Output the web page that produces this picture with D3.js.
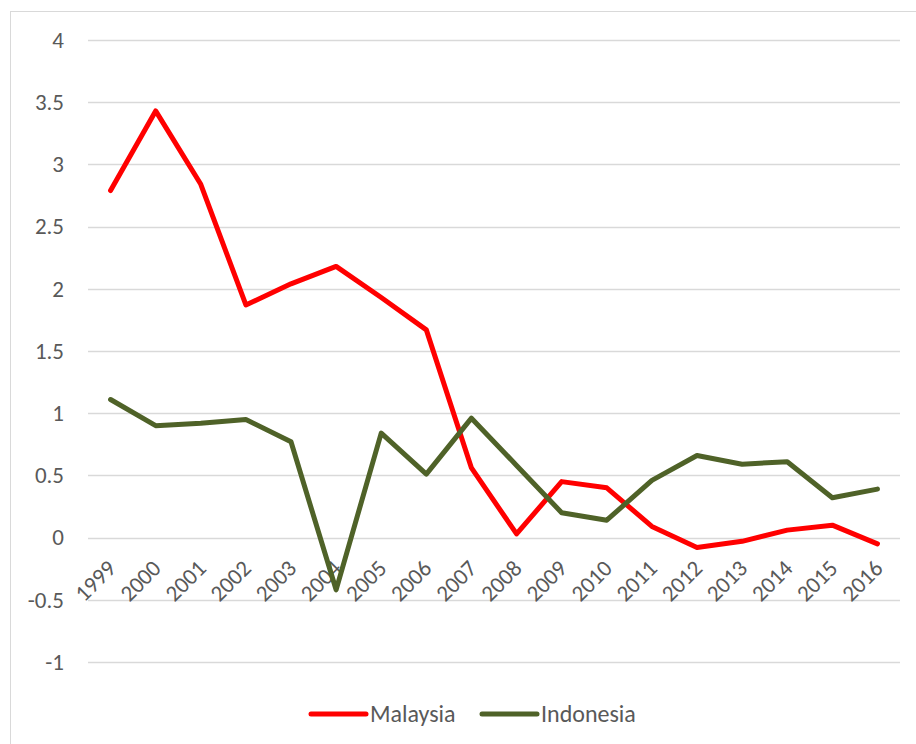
<!DOCTYPE html>
<html>
<head>
<meta charset="utf-8">
<script src="https://cdn.jsdelivr.net/npm/d3@7"></script>
<style>
  html, body { margin: 0; padding: 0; background: #fff; }
  svg { display: block; }
</style>
</head>
<body>
<svg id="chart" width="916" height="744"></svg>
<script>
const years = ["1999","2000","2001","2002","2003","2004","2005","2006","2007","2008","2009","2010","2011","2012","2013","2014","2015","2016"];
const malaysia = [2.79, 3.43, 2.84, 1.87, 2.04, 2.18, 1.93, 1.67, 0.56, 0.03, 0.45, 0.40, 0.09, -0.08, -0.03, 0.06, 0.10, -0.05];
const indonesia = [1.11, 0.90, 0.92, 0.95, 0.77, -0.42, 0.84, 0.51, 0.96, 0.58, 0.20, 0.14, 0.46, 0.66, 0.59, 0.61, 0.32, 0.39];
const yTicks = [-1, -0.5, 0, 0.5, 1, 1.5, 2, 2.5, 3, 3.5, 4];
const seriesNames = ["Malaysia", "Indonesia"];
const seriesColors = ["#FF0000", "#4F6228"];

const svg = d3.select("#chart");
const font = "Calibri, Carlito, Lato, 'Open Sans', sans-serif";
const textColor = "#595959";

// outer frame
svg.append("rect").attr("x", 10.5).attr("y", 11.5).attr("width", 920).attr("height", 760)
  .attr("fill", "none").attr("stroke", "#D9D9D9").attr("stroke-width", 1);

const x = d3.scalePoint().domain(years).range([88, 900]).padding(0.5);
const y = d3.scaleLinear().domain([-1, 4]).range([662, 40]);

// gridlines
svg.append("g").selectAll("line").data(yTicks).join("line")
  .attr("x1", 88).attr("x2", 900)
  .attr("y1", d => Math.round(y(d)) + 0.5).attr("y2", d => Math.round(y(d)) + 0.5)
  .attr("stroke", "#D9D9D9").attr("stroke-width", 1.3);

// y axis labels
const yAxis = d3.axisLeft(y).tickValues(yTicks).tickSize(0).tickPadding(0).tickFormat(d => String(d));
const yg = svg.append("g").attr("transform", "translate(64,0)").call(yAxis);
yg.select(".domain").remove();
yg.selectAll("text").attr("font-family", font).attr("font-size", 23).attr("fill", textColor);

// x axis labels (rotated)
const xAxis = d3.axisBottom(x).tickSize(0).tickPadding(0);
const xg = svg.append("g").call(xAxis);
xg.select(".domain").remove();
xg.selectAll(".tick").attr("transform", d => `translate(${x(d) + 1},564)`);
xg.selectAll("text")
  .attr("font-family", font).attr("font-size", 23).attr("fill", textColor)
  .attr("text-anchor", "end").attr("dy", "0.35em").attr("y", 0).attr("x", 0)
  .attr("transform", "rotate(-45)");

// lines
const line = d3.line().x((d, i) => x(years[i])).y(d => y(d)).curve(d3.curveLinear);
[malaysia, indonesia].forEach((vals, k) => {
  svg.append("path").datum(vals)
    .attr("d", line)
    .attr("fill", "none")
    .attr("stroke", seriesColors[k])
    .attr("stroke-width", 5)
    .attr("stroke-linejoin", "round")
    .attr("stroke-linecap", "round");
});

// legend
const legendX = [311, 482];
seriesNames.forEach((name, k) => {
  const lx = legendX[k];
  svg.append("line").attr("x1", lx).attr("x2", lx + 55).attr("y1", 714).attr("y2", 714)
    .attr("stroke", seriesColors[k]).attr("stroke-width", 5).attr("stroke-linecap", "round");
  svg.append("text").attr("x", lx + 59).attr("y", 714).attr("dy", "0.35em")
    .attr("font-family", font).attr("font-size", 24).attr("fill", textColor).text(name);
});
</script>
</body>
</html>
